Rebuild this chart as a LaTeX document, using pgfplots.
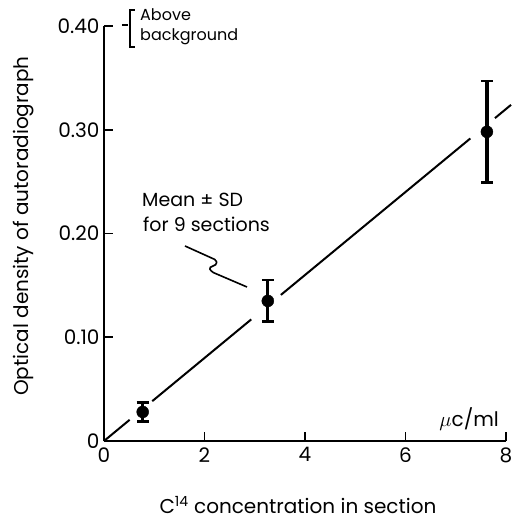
\documentclass[border=0pt]{standalone}
\usepackage{pgfplots}
\pgfplotsset{compat=1.18}
\usepackage{fontspec}
\setmainfont{Poppins}
\usetikzlibrary{calc}
\begin{document}
\begin{tikzpicture}
\begin{axis}[
  scale only axis, width=402bp, height=415bp,
  xmin=0, xmax=8, ymin=0, ymax=0.4,
  axis lines*=left,
  axis line style={line width=2.4bp, black},
  xtick={0,2,4,6,8}, xticklabels={0,2,4,6,8},
  ytick={0,0.1,0.2,0.3,0.4}, yticklabels={0,0.10,0.20,0.30,0.40},
  tick align=inside,
  major tick length=9bp,
  tick style={line width=1.8bp, black},
  ticklabel style={font=\fontsize{20bp}{20bp}\selectfont},
  yticklabel style={xshift=-1bp},
  xticklabel style={yshift=-3bp},
  clip=false,
]
\coordinate (O) at (axis cs:0,0);
% fitted line, interrupted around the points
\addplot[black, line width=2bp] coordinates {(0,0) (0.51,0.0204)};
\addplot[black, line width=2bp] coordinates {(0.96,0.0384) (2.93,0.1172)};
\addplot[black, line width=2bp] coordinates {(3.52,0.1408) (7.29,0.2916)};
\addplot[black, line width=2bp] coordinates {(7.78,0.3112) (8.1,0.324)};
% means with SD
\addplot[black, only marks, mark=*, mark size=6bp,
  error bars/.cd, y dir=both, y explicit,
  error bar style={line width=3.3bp, black},
  error mark options={rotate=90, line width=2.6bp, mark size=6bp, black}]
  coordinates {
  (0.77,0.028) +- (0,0.009)
  (3.26,0.135) +- (0,0.020)
  (7.62,0.298) +- (0,0.049)
};
\end{axis}
\begin{scope}[shift={($(O)+(-104bp,441bp)$)}, x=1bp, y=-1bp]
  \node[rotate=90, font=\fontsize{20bp}{20bp}\selectfont] at (24,226) {Optical density of autoradiograph};
  \node[font=\fontsize{20bp}{20bp}\selectfont] at (298,505) {C\textsuperscript{14} concentration in section};
  \node[anchor=base west, inner sep=0pt, font=\fontsize{19bp}{19bp}\selectfont] at (142,207) {Mean ± SD};
  \node[anchor=base west, inner sep=0pt, font=\fontsize{19bp}{19bp}\selectfont] at (143,232) {for 9 sections};
  \node[anchor=base west, inner sep=0pt, font=\fontsize{16bp}{16bp}\selectfont] at (140,21) {Above};
  \node[anchor=base west, inner sep=0pt, font=\fontsize{16bp}{16bp}\selectfont] at (140,41) {background};
  \node[anchor=base east, inner sep=0pt, font=\fontsize{20bp}{20bp}\selectfont] at (499,427) {$\mu$c/ml};
  \draw[line width=1.6bp, rounded corners=1.5bp] (185,246)--(216,260)--(217,264)--(209,268)--(212,272)--(247,287);
  \draw[line width=1.5bp] (122,25)--(128,25);
  \draw[line width=1.5bp] (135,10)--(130,10)--(130,47)--(135,47);
\end{scope}
\pgfresetboundingbox
\path ($(O)+(-104bp,-82bp)$) rectangle ($(O)+(411bp,441bp)$);
\end{tikzpicture}
\end{document}
